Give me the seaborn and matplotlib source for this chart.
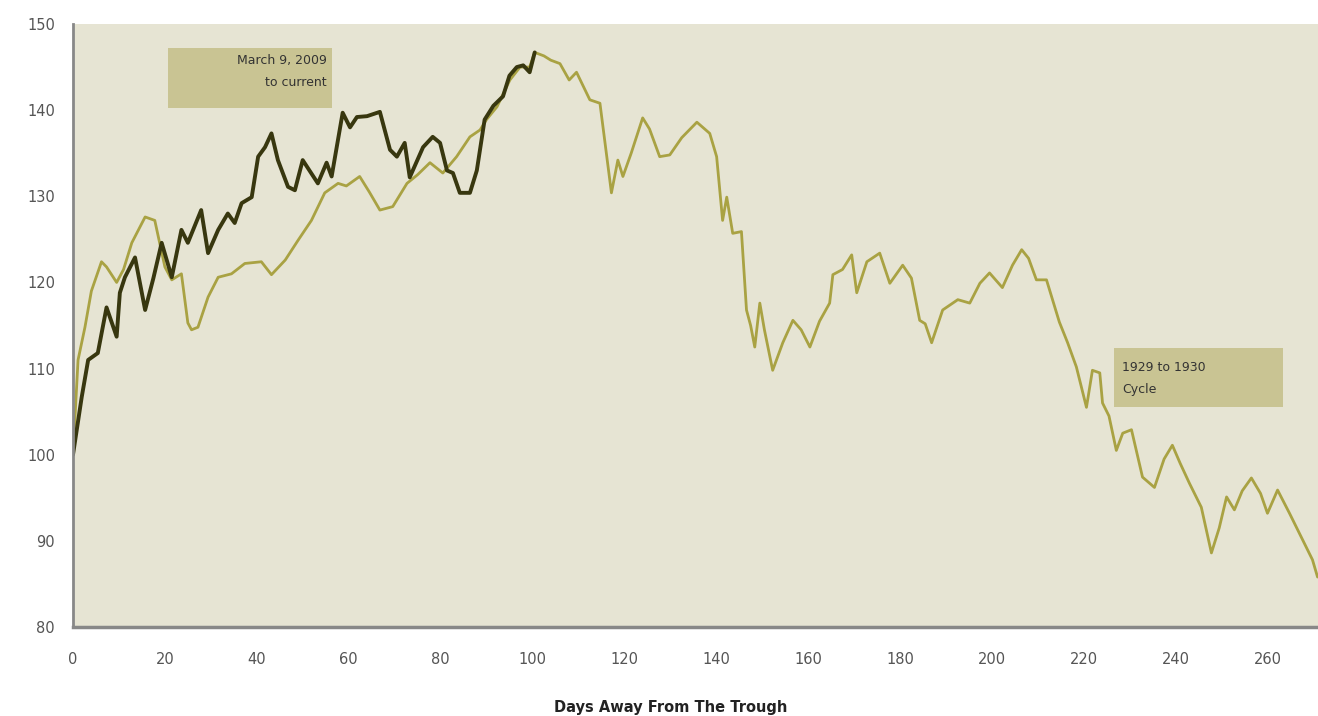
import pandas as pd
import numpy as np
import seaborn as sns
import matplotlib.pyplot as plt
from matplotlib.patches import Rectangle

# 1929 to 1930 cycle, indexed to 100 at the trough
days_1929 = [0, 1.1, 2.6, 4, 6.2, 7.3, 9.5, 11, 12.8, 15.7, 17.8, 20, 21.5, 23.6, 25, 25.8,
             27.2, 29.4, 31.6, 34.5, 37.4, 41, 43.2, 46.2, 49, 51.9, 54.8, 57.7, 59.5, 62.4,
             64.5, 66.8, 69.6, 72.7, 75, 77.7, 80.5, 83.5, 86.4, 88.6, 90, 92.3, 95.1, 97.3,
             99.4, 100.5, 102.5, 104, 106, 108, 109.6, 112.5, 114.7, 117.2, 118.6, 119.7,
             121.5, 124, 125.5, 127.7, 129.9, 132.5, 135.8, 138.6, 140.1, 141.4, 142.3,
             143.6, 145.5, 146.6, 147.5, 148.4, 149.5, 150.5, 152.3, 154.5, 156.7, 158.5,
             160.4, 162.5, 164.7, 165.4, 167.5, 169.5, 170.6, 172.8, 175.6, 177.8, 180.6,
             182.5, 184.3, 185.5, 186.9, 189.3, 192.6, 195.2, 197.4, 199.5, 202.3, 204.5,
             206.5, 208, 209.7, 211.9, 214.7, 216.5, 218.4, 220.6, 221.9, 223.5, 224.1,
             225.5, 227.1, 228.5, 230.4, 232.8, 235.4, 237.5, 239.3, 241, 243, 245.6, 247.8,
             249.5, 251.1, 252.8, 254.5, 256.5, 258.5, 260, 262.2, 264.8, 267.4, 269.8, 270.9]
vals_1929 = [100, 111, 114.8, 119, 122.4, 121.8, 120.0, 121.5, 124.6, 127.6, 127.2, 121.8,
             120.3, 121, 115.3, 114.5, 114.8, 118.3, 120.6, 121, 122.2, 122.4, 120.9, 122.6,
             124.9, 127.2, 130.4, 131.5, 131.2, 132.3, 130.5, 128.4, 128.8, 131.5, 132.5,
             133.9, 132.7, 134.6, 136.9, 137.7, 138.9, 140.4, 143.5, 145, 145, 146.7, 146.3,
             145.8, 145.4, 143.5, 144.4, 141.2, 140.8, 130.4, 134.2, 132.3, 135, 139.1,
             137.8, 134.6, 134.8, 136.8, 138.6, 137.3, 134.6, 127.2, 129.9, 125.7, 125.9,
             116.8, 115, 112.5, 117.6, 114.5, 109.8, 113, 115.6, 114.5, 112.5, 115.5, 117.6,
             120.9, 121.5, 123.2, 118.8, 122.4, 123.4, 119.9, 122, 120.5, 115.6, 115.2, 113,
             116.8, 118, 117.6, 119.9, 121.1, 119.4, 122, 123.8, 122.8, 120.3, 120.3, 115.4,
             113, 110.2, 105.5, 109.8, 109.5, 106, 104.5, 100.5, 102.5, 102.9, 97.4, 96.2,
             99.5, 101.1, 99, 96.7, 93.9, 88.6, 91.5, 95.1, 93.6, 95.8, 97.3, 95.5, 93.2,
             95.9, 93.2, 90.4, 87.8, 85.8]

# March 9, 2009 to current
days_now = [0, 1.9, 3.3, 5.4, 7.3, 9.5, 10.2, 11.3, 13.5, 15.7, 17.5, 19.3, 21.5, 23.6, 25,
            27.9, 29.4, 31.6, 33.7, 35.2, 36.7, 38.9, 40.3, 41.8, 43.2, 44.6, 46.8, 48.3, 50,
            53.3, 55.2, 56.3, 58.7, 60.3, 61.8, 64, 66.8, 69, 70.5, 72.2, 73.3, 76.2, 78.3,
            79.9, 81.4, 82.7, 84.2, 86.4, 87.9, 89.6, 91.5, 93.6, 95, 96.6, 98, 99.4, 100.5]
vals_now = [100, 106.7, 111, 111.8, 117.1, 113.7, 118.8, 120.6, 122.9, 116.8, 120.5, 124.6,
            120.6, 126.1, 124.6, 128.4, 123.4, 126.1, 128, 126.9, 129.2, 129.9, 134.6, 135.7,
            137.3, 134.2, 131.1, 130.7, 134.2, 131.5, 133.9, 132.3, 139.7, 138, 139.2, 139.3,
            139.8, 135.4, 134.6, 136.2, 132.2, 135.7, 136.9, 136.2, 133, 132.7, 130.4, 130.4,
            133, 138.9, 140.5, 141.6, 144, 145, 145.2, 144.4, 146.7]

x_ticks = np.arange(0, 261, 20)
y_ticks = np.arange(80, 151, 10)

old = pd.DataFrame({"Day": days_1929, "Index": vals_1929})
new = pd.DataFrame({"Day": days_now, "Index": vals_now})

sns.set_style("white")
plt.rcParams["font.family"] = ["DejaVu Sans"]

fig = plt.figure(figsize=(13.18, 7.16), dpi=100)
ax = fig.add_axes([73 / 1318, 1 - 627 / 716, 1 - 73 / 1318, (627 - 24) / 716])
ax.set_facecolor("#E6E4D3")

sns.lineplot(data=old, x="Day", y="Index", ax=ax, color="#A9A243", linewidth=2)
sns.lineplot(data=new, x="Day", y="Index", ax=ax, color="#38370F", linewidth=2.8)

ax.set_xlim(0, 271)
ax.set_ylim(80, 150)
ax.set_xticks(x_ticks)
ax.set_yticks(y_ticks)
ax.tick_params(axis="both", colors="#7a7a7a", labelcolor="#555555", labelsize=10.5)
ax.tick_params(axis="y", length=7, width=1.5, pad=6)
ax.tick_params(axis="x", length=4, width=1.2, pad=14)

for s in ["top", "right"]:
    ax.spines[s].set_visible(False)
ax.spines["left"].set_color("#888888")
ax.spines["left"].set_linewidth(2)
ax.spines["bottom"].set_color("#888888")
ax.spines["bottom"].set_linewidth(2.5)

ax.set_ylabel("")
ax.set_xlabel("Days Away From The Trough", fontsize=10.5, fontweight="bold",
              color="#222222", labelpad=24, x=0.48)

# label boxes
ax.add_patch(Rectangle((20.7, 140.2), 35.7, 7.0, transform=ax.transData,
                       facecolor="#C9C493", edgecolor="none", zorder=3))
ax.text(55.2, 144.5, "March 9, 2009\nto current", ha="right", va="center",
        fontsize=9, color="#333333", linespacing=1.9, zorder=4)

ax.add_patch(Rectangle((226.7, 105.5), 36.6, 6.9, transform=ax.transData,
                       facecolor="#C9C493", edgecolor="none", zorder=3))
ax.text(228.4, 108.9, "1929 to 1930\nCycle", ha="left", va="center",
        fontsize=9, color="#333333", linespacing=1.9, zorder=4)

fig.savefig("out.png", dpi=100)
